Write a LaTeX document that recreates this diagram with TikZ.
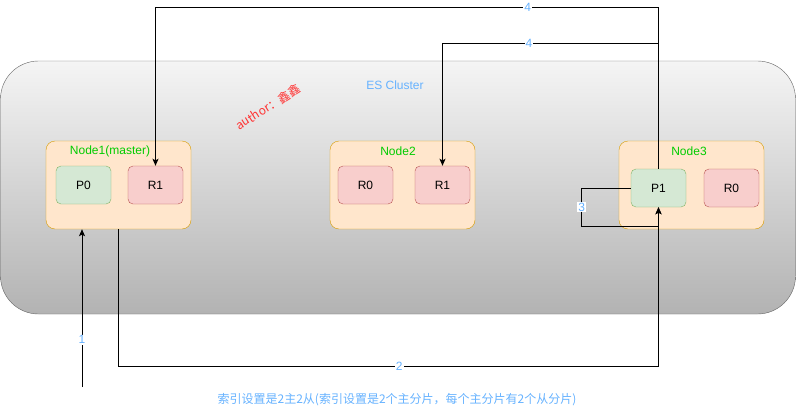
\documentclass[tikz,border=0pt]{standalone}
\usepackage{fontspec}
\setmainfont{Liberation Sans}
\newfontfamily\cjk{Noto Sans CJK SC}
\usetikzlibrary{arrows.meta,positioning}
\definecolor{lblblue}{HTML}{66B2FF}
\definecolor{hostgreen}{HTML}{00CC00}
\definecolor{hostfill}{HTML}{FFE6CC}
\definecolor{hostline}{HTML}{D79B00}
\definecolor{prifill}{HTML}{D5E8D4}
\definecolor{priline}{HTML}{82B366}
\definecolor{repfill}{HTML}{F8CECC}
\definecolor{repline}{HTML}{B85450}
\definecolor{authorred}{HTML}{FF3333}

\begin{document}
\begin{tikzpicture}[x=1pt, y=-1pt,
    every node/.style={font=\fontsize{12}{14}\selectfont},
    cluster/.style={draw=black!60, top color=black!4, bottom color=black!30, rounded corners=38pt, minimum width=795pt, minimum height=253pt},
    host/.style={draw=hostline, fill=hostfill, rounded corners=9pt, minimum width=145pt, minimum height=88pt},
    hostname/.style={text=hostgreen, inner sep=0pt},
    primary/.style={draw=priline, fill=prifill, rounded corners=5pt, minimum width=55pt, minimum height=38pt, inner sep=0pt},
    replica/.style={draw=repline, fill=repfill, rounded corners=5pt, minimum width=55pt, minimum height=38pt, inner sep=0pt},
    lbl/.style={text=lblblue, fill=white, inner sep=1pt},
    arr/.style={-{Stealth[length=7pt, width=6pt, inset=1.5pt]}, line width=1pt}
]
    \useasboundingbox (0,0) rectangle (796,415);

    \node[cluster] (es) at (398,187.5) {};
    \node[text=lblblue] (estitle) at (395,85) {ES Cluster};
    \node[text=authorred, rotate=32] (author) at (268,107) {\cjk author：鑫鑫};

    \node[host] (n1) at (118.5,185) {};
    \node[hostname] (n1name) at (110,151) {Node1(master)};
    \node[primary] (p0) at (83.5,185) {P0};
    \node[replica] (r1a) at (155.5,185) {R1};

    \node[host] (n2) at (402.5,185) {};
    \node[hostname] (n2name) at (398,151) {Node2};
    \node[replica] (r0a) at (365.5,185) {R0};
    \node[replica] (r1b) at (442.5,185) {R1};

    \node[host] (n3) at (691.5,185) {};
    \node[hostname] (n3name) at (689,151) {Node3};
    \node[primary] (p1) at (658.5,188) {P1};
    \node[replica] (r0b) at (731.5,188) {R0};

    \coordinate (client) at (82,387);
    \draw[arr] (client) -- node[lbl, pos=0.3] {1} (client |- n1.south);
    \draw[arr] (n1.south) -- ++(0,137) -| node[lbl, pos=0.26] {2} (p1.south);
    \draw[arr] (p1.west) -- ++(-49,0) -- node[lbl] {3} ++(0,38) -| (p1.south);
    \draw[arr] (p1.north) -- (p1.north |- 0,7) -| node[lbl, pos=0.13] {4} (r1a.north);
    \draw[arr] (p1.north) -- (p1.north |- 0,43) -| node[lbl, pos=0.3] {4} (r1b.north);

    \node[text=lblblue] (note) at (397,400) {\cjk 索引设置是2主2从(索引设置是2个主分片，每个主分片有2个从分片)};
\end{tikzpicture}
\end{document}
